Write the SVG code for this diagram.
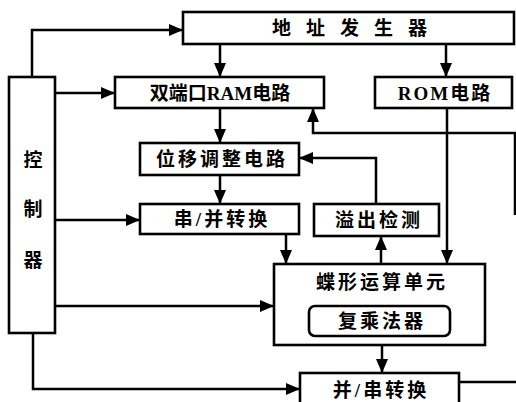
<svg xmlns="http://www.w3.org/2000/svg" width="516" height="402" viewBox="0 0 516 402">
<style>
.b{fill:#fff;stroke:#000;stroke-width:2.6}
.t{font-family:"Liberation Serif","Noto Sans CJK SC",serif;font-weight:bold;font-size:19px;fill:#000;text-anchor:middle;dominant-baseline:central}
.c{fill:none;stroke:#000;stroke-width:2.5}
</style>
<defs>
<marker id="a" markerUnits="userSpaceOnUse" markerWidth="14" markerHeight="12" refX="13" refY="6" orient="auto">
<path d="M0,0 L14,6 L0,12 Z" fill="#000"/>
</marker>
</defs>
<rect width="516" height="402" fill="#fff"/>
<g id="connectors">
<path class="c" d="M32,77 V30 H182" marker-end="url(#a)"/>
<path class="c" d="M55,93 H114" marker-end="url(#a)"/>
<path class="c" d="M220,44 V76" marker-end="url(#a)"/>
<path class="c" d="M446,44 V76" marker-end="url(#a)"/>
<path class="c" d="M220,108 V142" marker-end="url(#a)"/>
<path class="c" d="M515,215 V133 H313 V109" marker-end="url(#a)"/>
<path class="c" d="M376,204 V158 H300" marker-end="url(#a)"/>
<path class="c" d="M220,175 V203" marker-end="url(#a)"/>
<path class="c" d="M55,220 H139" marker-end="url(#a)"/>
<path class="c" d="M286,234 V263" marker-end="url(#a)"/>
<path class="c" d="M381,264 V237" marker-end="url(#a)"/>
<path class="c" d="M447,108 V263" marker-end="url(#a)"/>
<path class="c" d="M55,306 H273" marker-end="url(#a)"/>
<path class="c" d="M382,345 V372" marker-end="url(#a)"/>
<path class="c" d="M33,333 V389 H299" marker-end="url(#a)"/>
<path class="c" d="M459,382 H516"/>
</g>
<g id="addr">
<rect class="b" x="183" y="12" width="331" height="32"/>
<text class="t" x="357" y="28" letter-spacing="15">地址发生器</text>
</g>
<g id="controller">
<rect class="b" x="9" y="77" width="46" height="256"/>
<text class="t" x="33" y="160">控</text>
<text class="t" x="33" y="209">制</text>
<text class="t" x="33" y="260">器</text>
</g>
<g id="ram">
<rect class="b" x="115" y="77" width="209" height="31"/>
<text class="t" x="220" y="93">双端口RAM电路</text>
</g>
<g id="rom">
<rect class="b" x="375" y="77" width="137" height="31"/>
<text class="t" x="445" y="93" letter-spacing="2">ROM电路</text>
</g>
<g id="shift">
<rect class="b" x="140" y="143" width="159" height="32"/>
<text class="t" x="222" y="159" letter-spacing="3">位移调整电路</text>
</g>
<g id="s2p">
<rect class="b" x="140" y="204" width="159" height="30"/>
<text class="t" x="222" y="219" letter-spacing="3">串/并转换</text>
</g>
<g id="overflow">
<rect class="b" x="314" y="204" width="125" height="32"/>
<text class="t" x="379" y="220" letter-spacing="3">溢出检测</text>
</g>
<g id="butterfly">
<rect class="b" x="274" y="264" width="211" height="81"/>
<text class="t" x="382" y="282" letter-spacing="3">蝶形运算单元</text>
<rect class="b" x="309" y="306" width="141" height="30" rx="6"/>
<text class="t" x="382" y="321" letter-spacing="3">复乘法器</text>
</g>
<g id="p2s">
<rect class="b" x="300" y="373" width="159" height="40"/>
<text class="t" x="381" y="390" letter-spacing="3">并/串转换</text>
</g>
</svg>
